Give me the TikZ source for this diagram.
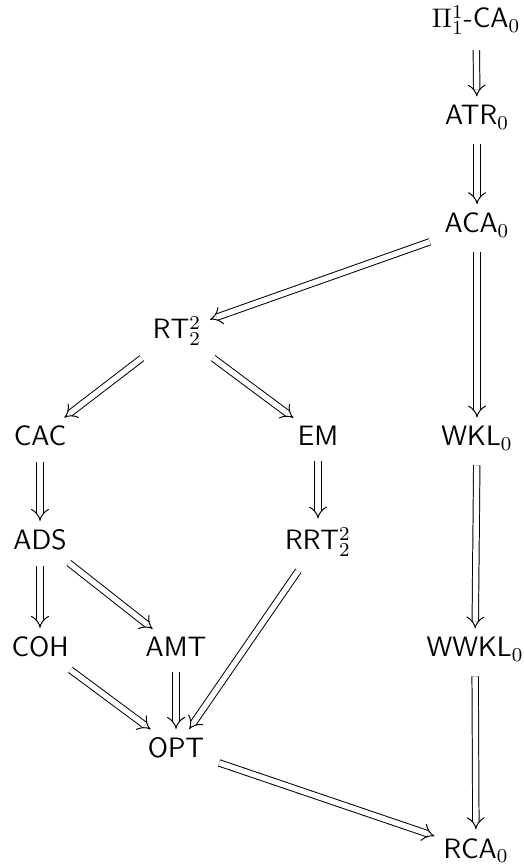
\documentclass[tikz,border=0pt]{standalone}
\usetikzlibrary{arrows.meta}
\begin{document}
\begin{tikzpicture}[x=1.43cm,y=1.43cm,
    sys/.style={font=\fontsize{11.4}{14}\sffamily, anchor=base, inner sep=3pt},
    imp/.style={double, double distance=2.2pt, -{Implies[scale=1.3]}, shorten <=3pt, shorten >=0.5pt}]
    % Fix the picture size
    \useasboundingbox (0,0) rectangle (5.24,8.64);

    % Right column
    \node[sys] (pica) at (4.76,8.36) {$\Pi^1_1$-CA$_0$};
    \node[sys] (atr)  at (4.77,7.39) {ATR$_0$};
    \node[sys] (aca)  at (4.77,6.31) {ACA$_0$};
    \node[sys] (wkl)  at (4.77,4.18) {WKL$_0$};
    \node[sys] (wwkl) at (4.75,2.07) {WWKL$_0$};
    \node[sys] (rca)  at (4.76,0.06) {RCA$_0$};

    % Ramsey side
    \node[sys] (rt)   at (1.77,5.25) {RT$^2_2$};
    \node[sys] (cac)  at (0.40,4.18) {CAC};
    \node[sys] (em)   at (3.18,4.18) {EM};
    \node[sys] (ads)  at (0.40,3.14) {ADS};
    \node[sys] (rrt)  at (3.18,3.14) {RRT$^2_2$};
    \node[sys] (coh)  at (0.40,2.07) {COH};
    \node[sys] (amt)  at (1.76,2.07) {AMT};
    \node[sys] (opt)  at (1.76,1.06) {OPT};

    % Implications
    \foreach \a/\b in {pica/atr, atr/aca, aca/wkl, wkl/wwkl, wwkl/rca,
                       aca/rt, rt/cac, rt/em, cac/ads, em/rrt,
                       ads/coh, ads/amt, coh/opt, amt/opt, rrt/opt, opt/rca}
        \draw[imp] (\a) -- (\b);
\end{tikzpicture}
\end{document}
